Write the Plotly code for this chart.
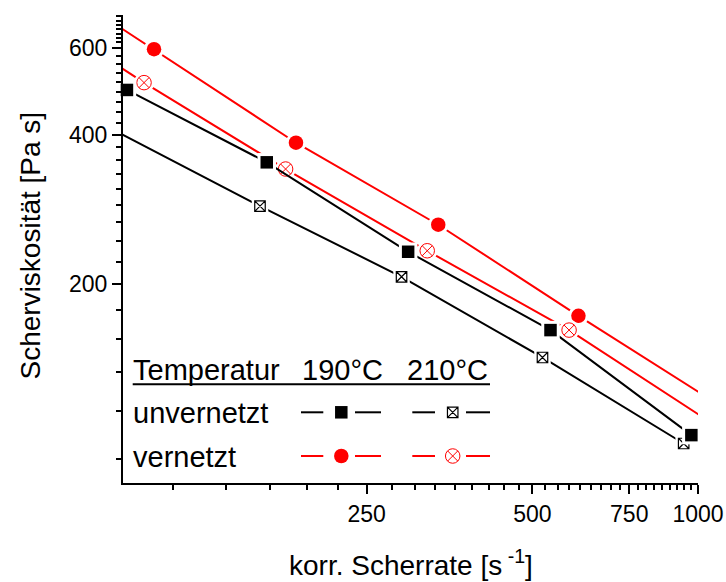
import math
import plotly.graph_objects as go

# ---------------- data ----------------
# unvernetzt, 190 °C  (filled squares)
shear_unv_190 = [91.7, 164.6, 297.4, 539.5, 972.6]
visc_unv_190 = [493.0, 352.4, 232.7, 161.8, 99.4]
# unvernetzt, 210 °C  (crossed squares)
shear_unv_210 = [88.8, 160.0, 289.3, 521.7, 941.8]
visc_unv_210 = [404.0, 287.6, 207.2, 142.5, 95.6]
# vernetzt, 190 °C  (filled circles)
shear_ver_190 = [56.9, 102.7, 186.0, 337.3, 606.4, 1094.8]
visc_ver_190 = [913.0, 595.5, 385.9, 263.8, 172.9, 114.1]
# vernetzt, 210 °C  (crossed circles)
shear_ver_210 = [54.6, 98.5, 178.1, 322.1, 583.1, 1049.8]
visc_ver_210 = [778.6, 510.0, 341.6, 233.8, 161.8, 105.8]

x_tick_vals = [250, 500, 750, 1000]
x_tick_text = ["250", "500", "750", "1000"]
y_tick_vals = [200, 400, 600]
y_tick_text = ["200", "400", "600"]
x_minor_vals = [111.1, 138.9, 166.7, 194.4, 222.2, 277.8, 305.6, 333.3, 361.1,
                388.9, 416.7, 444.4, 472.2, 527.8, 555.6, 583.3, 611.1, 638.9,
                666.7, 694.4, 722.2, 777.8, 805.6, 833.3, 861.1, 888.9, 916.7,
                944.4, 972.2]
y_minor_vals = [88.9, 111.1, 133.3, 155.6, 177.8, 222.2, 244.4, 266.7, 288.9,
                311.1, 333.3, 355.6, 377.8, 422.2, 444.4, 466.7, 488.9, 511.1,
                533.3, 555.6, 577.8, 616.0, 628.3, 640.6, 653.5, 666.8, 679.9,
                693.3]

x_range = [90.2, 1000.0]
y_range = [79.6, 698.0]

legend_header = ["Temperatur", "190°C", "210°C"]
legend_rows = ["unvernetzt", "vernetzt"]

# ---------------- layout constants ----------------
W, H = 726, 582
ML, MR, MT, MB = 123, 28, 15, 99
PW, PH = W - ML - MR, H - MT - MB
FONT = "Liberation Sans, Arial, sans-serif"
RED = "#ff0000"
BLACK = "#000000"


def fx(px):
    return (px - ML) / PW


def fy(py):
    return (MT + PH - py) / PH


lx0, lx1 = math.log10(x_range[0]), math.log10(x_range[1])
ly0, ly1 = math.log10(y_range[0]), math.log10(y_range[1])


def inside(xs, ys):
    xi, yi = [], []
    for a, b in zip(xs, ys):
        if x_range[0] <= a <= x_range[1] and y_range[0] <= b <= y_range[1]:
            xi.append(a)
            yi.append(b)
    return xi, yi


fig = go.Figure()


def add_series(xs, ys, color, symbol, size, lw, gap_symbol):
    fig.add_trace(go.Scatter(x=xs, y=ys, mode="lines",
                             line=dict(color=color, width=2),
                             showlegend=False, hoverinfo="skip"))
    xi, yi = inside(xs, ys)
    fig.add_trace(go.Scatter(x=xi, y=yi, mode="markers", cliponaxis=False,
                             marker=dict(symbol=gap_symbol, size=size + 6,
                                         color="white", line=dict(width=0)),
                             showlegend=False, hoverinfo="skip"))
    fig.add_trace(go.Scatter(x=xi, y=yi, mode="markers", cliponaxis=False,
                             marker=dict(symbol=symbol, size=size, color=color,
                                         line=dict(color=color, width=lw)),
                             showlegend=False))


add_series(shear_ver_190, visc_ver_190, RED, "circle", 14.5, 0, "circle")
add_series(shear_ver_210, visc_ver_210, RED, "circle-x-open", 14.5, 1.0, "circle")
add_series(shear_unv_210, visc_unv_210, BLACK, "square-x-open", 10.5, 1.2, "square")
add_series(shear_unv_190, visc_unv_190, BLACK, "square", 12.5, 0, "square")

# ---------------- custom legend (overlay axes in plot fractions) ----------------
row_y = [fy(412.3), fy(456.0)]
seg_cols = [[(301.0, 323.3), (355.0, 381.0)], [(412.3, 435.0), (466.0, 490.0)]]
mark_x = [341.3, 452.7]
row_colors = [BLACK, RED]
row_symbols = [["square", "square-x-open"], ["circle", "circle-x-open"]]
row_sizes = [[12.5, 10.5], [14.5, 14.5]]
row_lw = [[0, 1.2], [0, 1.0]]
for r in range(2):
    lxs, lys = [], []
    for col in range(2):
        for (a, b) in seg_cols[col]:
            lxs += [fx(a), fx(b), None]
            lys += [row_y[r], row_y[r], None]
    fig.add_trace(go.Scatter(x=lxs, y=lys, xaxis="x2", yaxis="y2", mode="lines",
                             line=dict(color=row_colors[r], width=2),
                             showlegend=False, hoverinfo="skip"))
    for col in range(2):
        fig.add_trace(go.Scatter(x=[fx(mark_x[col])], y=[row_y[r]], xaxis="x2", yaxis="y2",
                                 mode="markers", cliponaxis=False,
                                 marker=dict(symbol=row_symbols[r][col], size=row_sizes[r][col],
                                             color=row_colors[r],
                                             line=dict(color=row_colors[r], width=row_lw[r][col])),
                                 showlegend=False, hoverinfo="skip"))

annotations = []
hdr_x = [130.5, 299.5, 405.0]
for t, x in zip(legend_header, hdr_x):
    annotations.append(dict(text=t, x=fx(x), y=fy(370.3), xref="paper", yref="paper",
                            xanchor="left", yanchor="middle", showarrow=False,
                            font=dict(family=FONT, size=29, color=BLACK)))
for t, yc in zip(legend_rows, [413.0, 457.0]):
    annotations.append(dict(text=t, x=fx(130.5), y=fy(yc), xref="paper", yref="paper",
                            xanchor="left", yanchor="middle", showarrow=False,
                            font=dict(family=FONT, size=29, color=BLACK)))
# axis titles
annotations.append(dict(text="Scherviskosität [Pa s]", x=fx(29.5), y=fy(246.0),
                        xref="paper", yref="paper", xanchor="center", yanchor="middle",
                        textangle=-90, showarrow=False,
                        font=dict(family=FONT, size=28, color=BLACK)))
annotations.append(dict(text="korr. Scherrate [s<sup> -1</sup>]", x=fx(411.0), y=fy(563.0),
                        xref="paper", yref="paper", xanchor="center", yanchor="middle",
                        showarrow=False, font=dict(family=FONT, size=28, color=BLACK)))

shapes = [dict(type="line", xref="paper", yref="paper",
               x0=fx(132.7), x1=fx(490.0), y0=fy(384.3), y1=fy(384.3),
               line=dict(color=BLACK, width=2))]

axis_common = dict(type="log", showgrid=False, zeroline=False, automargin=False,
                   showline=True, linecolor=BLACK, linewidth=2, mirror=False,
                   ticks="outside", ticklen=9, tickwidth=2, tickcolor=BLACK,
                   tickmode="array", tickfont=dict(family=FONT, size=23, color=BLACK))

fig.update_layout(
    width=W, height=H,
    margin=dict(l=ML, r=MR, t=MT, b=MB, pad=0, autoexpand=False),
    paper_bgcolor="white", plot_bgcolor="white",
    showlegend=False,
    font=dict(family=FONT, size=22, color=BLACK),
    annotations=annotations, shapes=shapes,
    xaxis=dict(range=[lx0, lx1], tickvals=x_tick_vals, ticktext=x_tick_text,
               minor=dict(tickmode="array", tickvals=x_minor_vals, ticks="outside",
                          ticklen=5, tickwidth=2, tickcolor=BLACK, showgrid=False),
               **axis_common),
    yaxis=dict(range=[ly0, ly1], tickvals=y_tick_vals, ticktext=y_tick_text,
               minor=dict(tickmode="array", tickvals=y_minor_vals, ticks="outside",
                          ticklen=5, tickwidth=2, tickcolor=BLACK, showgrid=False),
               **axis_common),
    xaxis2=dict(overlaying="x", range=[0, 1], visible=False, fixedrange=True),
    yaxis2=dict(overlaying="y", range=[0, 1], visible=False, fixedrange=True),
)

fig.write_html("out.html")
